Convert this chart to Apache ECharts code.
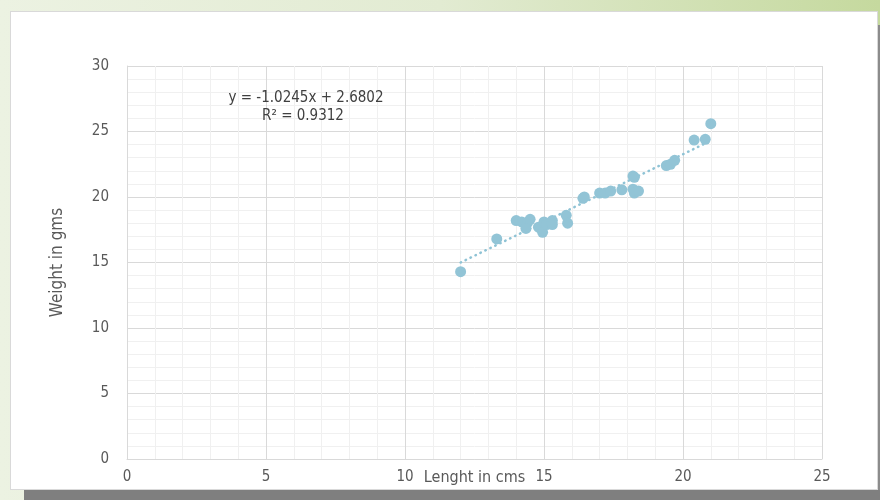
<!DOCTYPE html>
<html>
<head>
<meta charset="utf-8">
<script src="https://cdn.jsdelivr.net/npm/echarts@6/dist/echarts.min.js"></script>
<style>
  html, body { margin: 0; padding: 0; }
  body { width: 880px; height: 500px; position: relative; overflow: hidden;
         background: linear-gradient(to right, #ecf2e2 0%, #e2ebd2 50%, #c5d99e 100%); }
  #panel { position: absolute; left: 10px; top: 11px; width: 866px; height: 477px;
           background: #ffffff; border: 1px solid #d9d9d9; }
  #shadowR { position: absolute; left: 878px; top: 25px; width: 2px; height: 475px; background: #8c8c8c; }
  #shadowB { position: absolute; left: 24px; top: 490px; width: 856px; height: 10px; background: #7f7f7f; }
  #chart { position: absolute; left: 0; top: 0; width: 880px; height: 500px; }
</style>
</head>
<body>
<div id="panel"></div>
<div id="shadowR"></div>
<div id="shadowB"></div>
<div id="chart"></div>
<script>
// Data
var lengthCm = [12.0, 13.3, 14.0, 14.2, 14.4, 14.5, 14.35, 14.8, 14.95, 15.0, 15.1, 15.3, 15.3,
                15.8, 15.85, 16.4, 16.45, 17.0, 17.2, 17.4, 17.8, 18.2, 18.25, 18.2, 18.25, 18.4,
                19.4, 19.55, 19.7, 20.4, 20.8, 21.0];
var weightGm = [14.3, 16.8, 18.2, 18.1, 18.0, 18.3, 17.6, 17.7, 17.3, 18.1, 17.9, 18.2, 17.9,
                18.6, 18.0, 19.9, 20.0, 20.3, 20.3, 20.45, 20.55, 21.6, 21.5, 20.6, 20.3, 20.45,
                22.4, 22.5, 22.8, 24.35, 24.4, 25.6];
var trendX = [12.0, 21.0];
var trendY = [15.0, 24.3];
var equationText = 'y = -1.0245x + 2.6802';
var r2Text = 'R\u00B2 = 0.9312';
var xTitle = 'Lenght in cms';
var yTitle = 'Weight in gms';

var points = lengthCm.map(function (x, i) { return [x, weightGm[i]]; });
var trend = trendX.map(function (x, i) { return [x, trendY[i]]; });

var FONT = '"Liberation Sans Narrow", "DejaVu Sans Condensed", "Open Sans", sans-serif';
var chart = echarts.init(document.getElementById('chart'), null, { renderer: 'canvas' });
chart.setOption({
  animation: false,
  backgroundColor: 'transparent',
  grid: { left: 127, right: 58, top: 66, bottom: 41, outerBoundsMode: 'none', containLabel: false },
  xAxis: {
    type: 'value', min: 0, max: 25, interval: 5,
    name: xTitle, nameLocation: 'middle', nameGap: 11, nameMoveOverlap: false,
    nameTextStyle: { color: '#595959', fontSize: 16, fontFamily: FONT },
    axisLine: { show: true, lineStyle: { color: '#d9d9d9', width: 1 } },
    axisTick: { show: false },
    axisLabel: { color: '#595959', fontSize: 15, fontFamily: FONT, margin: 11 },
    splitLine: { show: true, lineStyle: { color: '#d9d9d9', width: 1 } },
    minorSplitLine: { show: true, lineStyle: { color: '#f0f0f0', width: 1 } },
    minorTick: { show: false, splitNumber: 5 }
  },
  yAxis: {
    type: 'value', min: 0, max: 30, interval: 5,
    name: yTitle, nameLocation: 'middle', nameGap: 61, nameRotate: 90, nameMoveOverlap: false,
    nameTextStyle: { color: '#595959', fontSize: 17, fontFamily: FONT },
    axisLine: { show: true, lineStyle: { color: '#d9d9d9', width: 1 } },
    axisTick: { show: false },
    axisLabel: { color: '#595959', fontSize: 15, fontFamily: FONT, margin: 18 },
    splitLine: { show: true, lineStyle: { color: '#d9d9d9', width: 1 } },
    minorSplitLine: { show: true, lineStyle: { color: '#f0f0f0', width: 1 } },
    minorTick: { show: false, splitNumber: 5 }
  },
  graphic: [
    { type: 'text', x: 306, y: 98, z: 100, style: { text: equationText, fill: '#404040', font: '15px ' + FONT, textAlign: 'center', textVerticalAlign: 'middle' } },
    { type: 'text', x: 303, y: 116, z: 100, style: { text: r2Text, fill: '#404040', font: '15px ' + FONT, textAlign: 'center', textVerticalAlign: 'middle' } }
  ],
  series: [
    {
      type: 'line', data: trend, symbol: 'none', z: 3,
      lineStyle: { color: '#8fc3d5', width: 2.5, type: [0.5, 5], cap: 'round' },
      silent: true
    },
    {
      type: 'scatter', data: points, symbol: 'circle', symbolSize: 11, z: 4,
      itemStyle: { color: '#92c4d6', opacity: 1 }
    }
  ]
});
</script>
</body>
</html>
